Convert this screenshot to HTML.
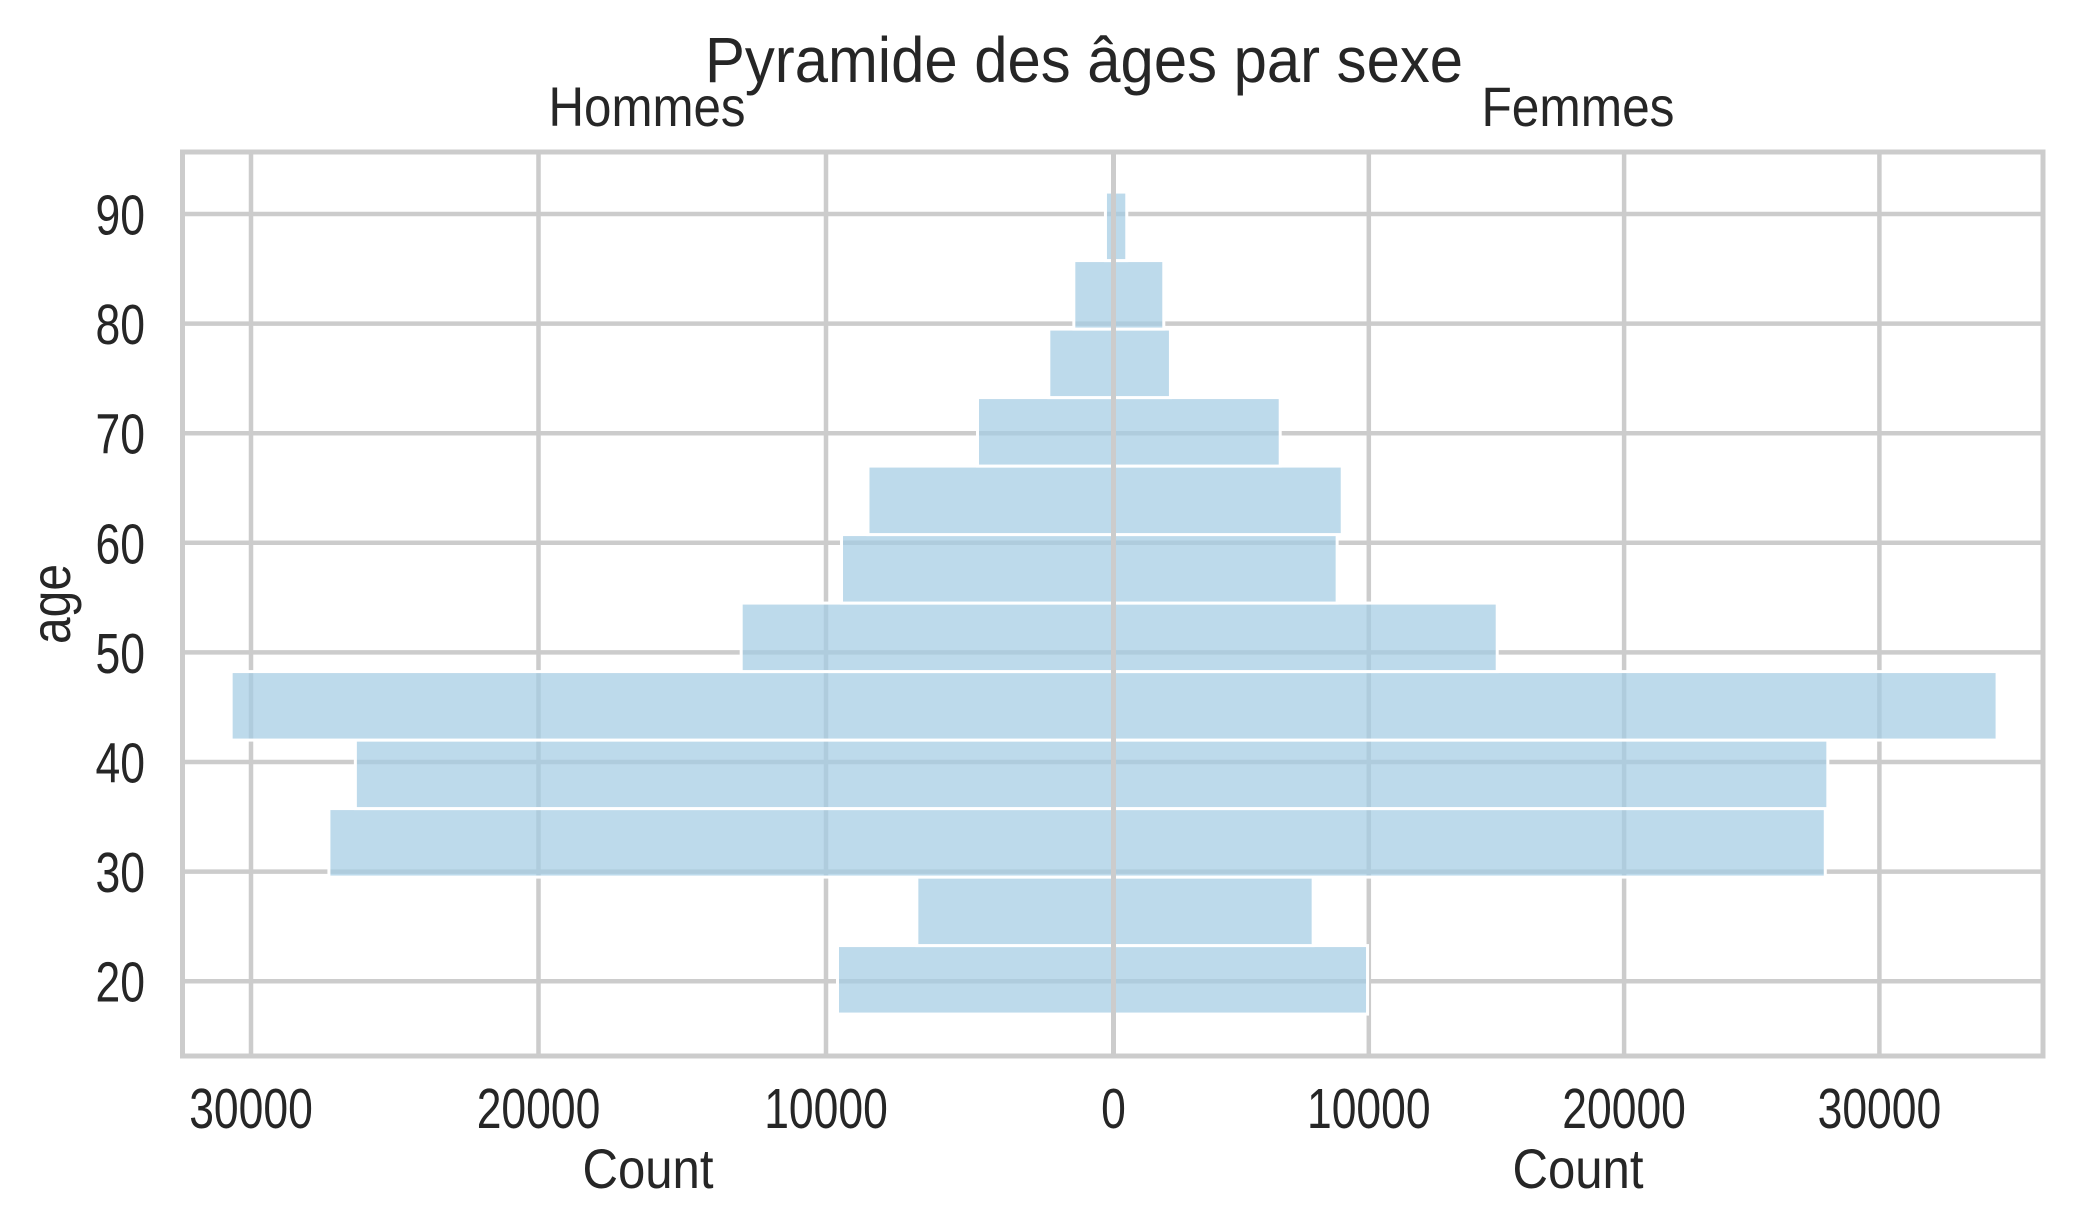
<!DOCTYPE html>
<html><head><meta charset="utf-8"><style>
html,body{margin:0;padding:0;background:#fff;}
svg{display:block;font-family:"Liberation Sans",Arial,sans-serif;}
</style></head><body>
<svg id="chart" width="2073" height="1229" viewBox="0 0 2073 1229" xmlns="http://www.w3.org/2000/svg">
<rect width="2073" height="1229" fill="#fff"/>
<g id="grid"></g>
<g id="bars"></g>
<g id="frame"></g>
<g id="labels" fill="#262626"></g>
<text x="1084" y="82" font-size="64" text-anchor="middle" fill="#262626" textLength="758" lengthAdjust="spacingAndGlyphs">Pyramide des âges par sexe</text>
<text x="647" y="126" font-size="56" text-anchor="middle" fill="#262626" textLength="197" lengthAdjust="spacingAndGlyphs">Hommes</text>
<text x="1578" y="126" font-size="56" text-anchor="middle" fill="#262626" textLength="193" lengthAdjust="spacingAndGlyphs">Femmes</text>
<text x="648" y="1188" font-size="56" text-anchor="middle" fill="#262626" textLength="131" lengthAdjust="spacingAndGlyphs">Count</text>
<text x="1578" y="1188" font-size="56" text-anchor="middle" fill="#262626" textLength="131" lengthAdjust="spacingAndGlyphs">Count</text>
<text x="0" y="0" font-size="56" text-anchor="middle" fill="#262626" textLength="80" lengthAdjust="spacingAndGlyphs" transform="translate(70,604) rotate(-90)">age</text>
</svg>
<script>
const binStarts = [17, 23.25, 29.5, 35.75, 42, 48.25, 54.5, 60.75, 67, 73.25, 79.5, 85.75];
const binWidth = 6.25;
const hommes = [9600, 6840, 27290, 26370, 30690, 12950, 9460, 8540, 4730, 2250, 1380, 280];
const femmes = [9950, 7820, 27880, 27980, 34610, 15030, 8760, 8960, 6530, 2230, 1970, 520];
const xTicks = [0, 10000, 20000, 30000];
const yTicks = [20, 30, 40, 50, 60, 70, 80, 90];

const NS = "http://www.w3.org/2000/svg";
const X0 = 1113.5, LEFT = 182.5, RIGHT = 2043, TOP = 152, BOTTOM = 1056;
function xL(v){ return X0 - v * 287.5 / 10000; }
function xR(v){ return X0 + v * 255.3 / 10000; }
function yA(a){ return 214 + (90 - a) * 10.96; }
function mk(tag, attrs, parent){ const e = document.createElementNS(NS, tag); for (const k in attrs) e.setAttribute(k, attrs[k]); parent.appendChild(e); return e; }
function narrow(t){ const w = t.getComputedTextLength(); t.setAttribute('textLength', (w * 0.78).toFixed(1)); t.setAttribute('lengthAdjust', 'spacingAndGlyphs'); }

const grid = document.getElementById('grid');
const bars = document.getElementById('bars');
const frame = document.getElementById('frame');
const labels = document.getElementById('labels');
const gs = {stroke:'#cccccc','stroke-width':4.5};

yTicks.forEach(t => {
  const l = mk('line', Object.assign({x1:LEFT, x2:RIGHT, y1:yA(t), y2:yA(t)}, gs), grid);
  
  
  const tx = mk('text', {x:145, y:yA(t)+20.5, 'font-size':57, 'text-anchor':'end'}, labels);
  tx.textContent = t;
  
  
  narrow(tx);
});
xTicks.forEach(t => {
  [xL(t), xR(t)].forEach((x, i) => {
    if (t === 0 && i === 1) return;
    const l = mk('line', Object.assign({x1:x, x2:x, y1:TOP, y2:BOTTOM}, gs), grid);
    
    
  });
  [xL(t), xR(t)].forEach((x, i) => {
    if (t === 0 && i === 1) return;
    const tx = mk('text', {x:x, y:1128, 'font-size':57, 'text-anchor':'middle'}, labels);
    tx.textContent = t;
    
    
    narrow(tx);
  });
});

binStarts.forEach((b, i) => {
  const y1 = yA(b + binWidth), y2 = yA(b);
  const rl = mk('rect', {x:xL(hommes[i]), y:y1, width:X0 - xL(hommes[i]), height:y2 - y1, fill:'rgb(163,204,227)', 'fill-opacity':0.72, stroke:'#fff', 'stroke-width':3}, bars);
  
  
  const rr = mk('rect', {x:X0, y:y1, width:xR(femmes[i]) - X0, height:y2 - y1, fill:'rgb(163,204,227)', 'fill-opacity':0.72, stroke:'#fff', 'stroke-width':3}, bars);
  
  
});

const fr = mk('rect', {x:LEFT, y:TOP, width:RIGHT - LEFT, height:BOTTOM - TOP, fill:'none', stroke:'#cccccc', 'stroke-width':5}, frame);


const cl = mk('line', {x1:X0, x2:X0, y1:TOP, y2:BOTTOM, stroke:'#cccccc', 'stroke-width':5}, frame);


</script>
</body></html>
